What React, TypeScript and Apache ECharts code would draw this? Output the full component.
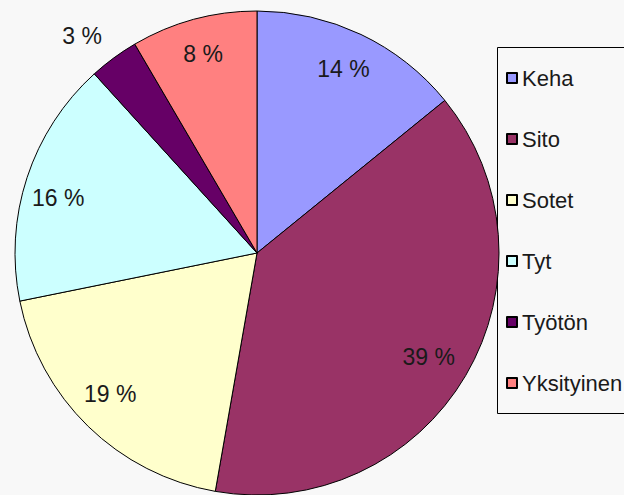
import React, { useEffect, useRef } from "react";
import * as echarts from "echarts";

const categories = ["Keha", "Sito", "Sotet", "Tyt", "Työtön", "Yksityinen"];
const values = [14.1, 38.5, 19.0, 16.4, 3.3, 8.4];
const colors = ["#9999ff", "#993366", "#ffffcc", "#ccffff", "#660066", "#ff8080"];

const FONT = "'Liberation Sans', Arial, sans-serif";

const labelOffsets: Record<string, number[]> = {
  Keha: [-2, 2],
  Sito: [-6, 0],
  Sotet: [-3, -7],
  Tyt: [-3, 9],
  "Työtön": [-53, -51],
};

export default function App() {
  const ref = useRef<HTMLDivElement>(null);
  useEffect(() => {
    if (!ref.current) return;
    document.body.style.margin = "0";
    const chart = echarts.init(ref.current, null, { renderer: "svg" });
    const total = values.reduce((a, b) => a + b, 0);
    const data = categories.map((name, i) => ({
      name,
      value: values[i],
      itemStyle: { color: colors[i] },
    }));
    const labelData = categories.map((name, i) => ({
      name,
      value: values[i],
      label: labelOffsets[name] ? { offset: labelOffsets[name] } : undefined,
    }));
    chart.setOption({
      animation: false,
      backgroundColor: "#f8f8f8",
      legend: {
        orient: "vertical",
        left: 506,
        top: 67,
        padding: 0,
        itemWidth: 10,
        itemHeight: 10,
        itemGap: 39,
        itemTextGap: 6,
        icon: "rect",
        data: categories,
        textStyle: {
          fontFamily: FONT,
          fontSize: 22,
          lineHeight: 22,
          color: "#1a1a1a",
        },
      },
      graphic: [
        {
          type: "rect",
          shape: { x: 497.5, y: 47.5, width: 140, height: 366 },
          style: { fill: "none", stroke: "#000", lineWidth: 1 },
          silent: true,
        },
      ],
      series: [
        {
          type: "pie",
          center: [257, 253],
          radius: [0, 242],
          startAngle: 90,
          clockwise: true,
          avoidLabelOverlap: false,
          label: { show: false },
          labelLine: { show: false },
          itemStyle: { borderColor: "#000", borderWidth: 1 },
          emphasis: { disabled: true },
          data,
        },
        {
          type: "pie",
          center: [257, 253],
          radius: [164, 242],
          startAngle: 90,
          clockwise: true,
          silent: true,
          avoidLabelOverlap: false,
          legendHoverLink: false,
          itemStyle: { color: "transparent", borderWidth: 0 },
          labelLine: { show: false },
          emphasis: { disabled: true },
          label: {
            show: true,
            position: "inside",
            fontFamily: FONT,
            fontSize: 23,
            color: "#1a1a1a",
            formatter: (p: any) => Math.round((p.value / total) * 100) + " %",
          },
          data: labelData,
        },
      ],
    });
    return () => chart.dispose();
  }, []);
  return (
    <div
      ref={ref}
      style={{ position: "fixed", left: 0, top: 0, width: 624, height: 495 }}
    />
  );
}
